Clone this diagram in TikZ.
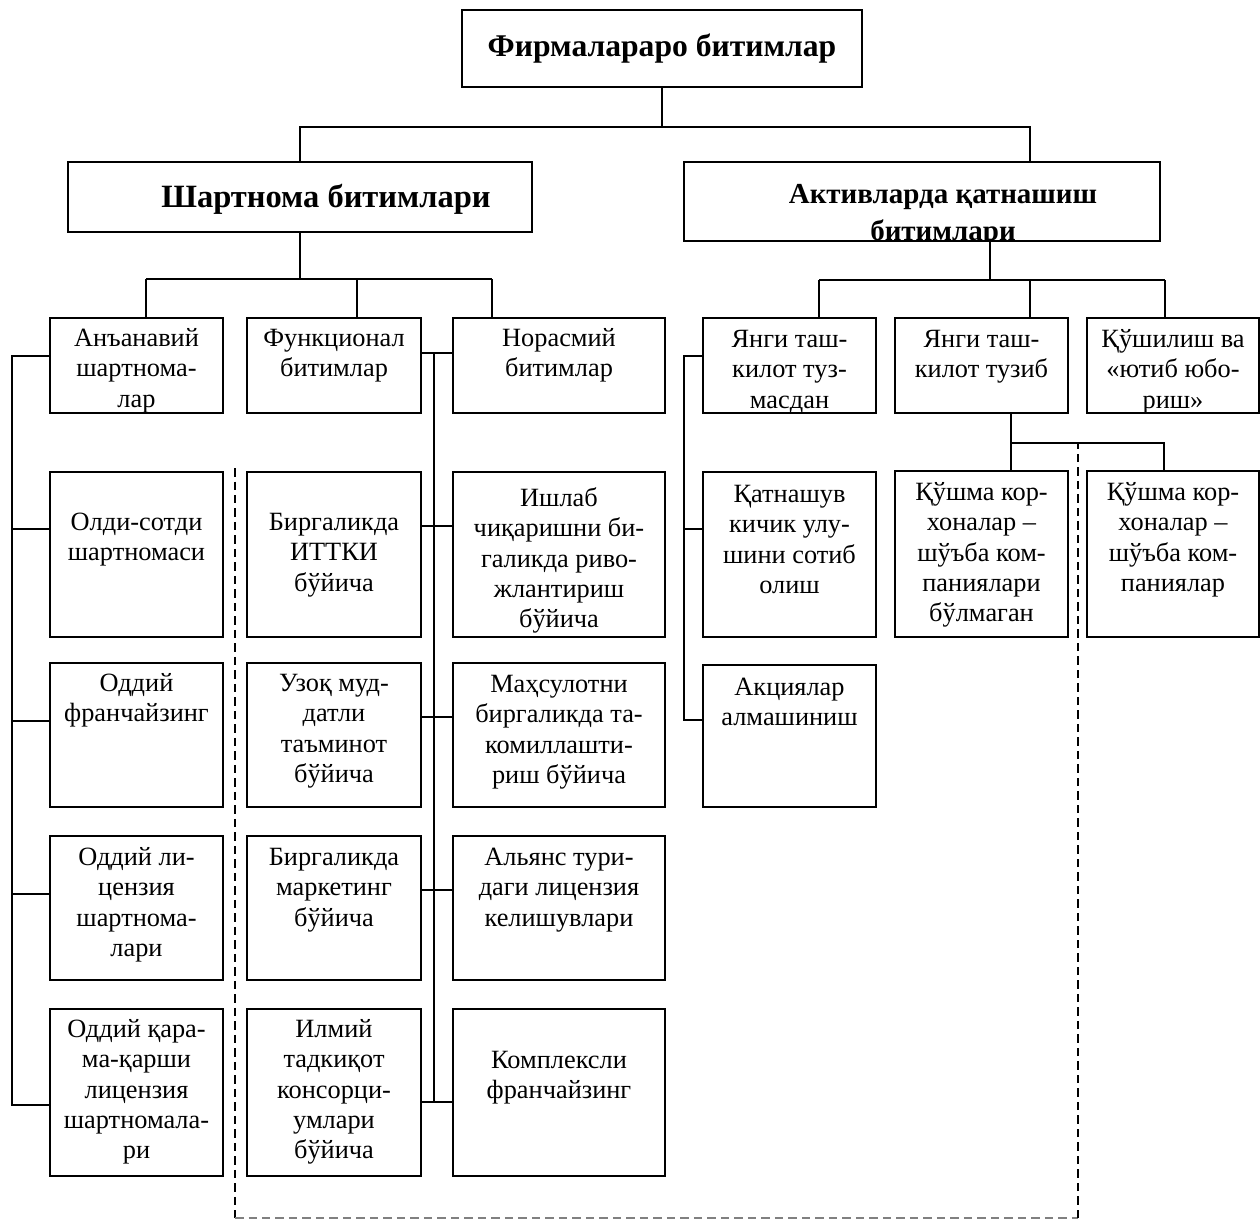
\documentclass[tikz,border=0pt]{standalone}
\usepackage{fontspec}
\setmainfont{Liberation Serif}
\newcommand{\toprule}[1]{\rule{0pt}{#1}}
\tikzset{
  box/.style={
    draw,
    line width=1.1pt,
    inner sep=0pt,
    outer sep=0pt
  },
  boxtext/.style={
    align=center,
    inner sep=0pt,
    font=\fontsize{15}{17.3}\selectfont
  },
  headtext/.style={
    align=center,
    inner sep=0pt,
    font=\fontsize{16.5}{21}\selectfont\bfseries
  },
  conn/.style={line width=1.1pt},
  dashline/.style={line width=0.8pt, dash pattern=on 0.17cm off 0.1cm},
  graydash/.style={dashline, gray}
}
\begin{document}
\begin{tikzpicture}[x=0.02cm, y=-0.02cm]
  \useasboundingbox (0,0) rectangle (1260,1220);
  % upper levels
  \node[box, minimum width=8cm, minimum height=1.54cm,
        font=\fontsize{18}{21}\selectfont\bfseries] (firm) at (662,48.5) {Фирмалараро битимлар};
  \node[box, minimum width=9.28cm, minimum height=1.4cm] (shart) at (300,197) {};
  \node[inner sep=0pt, anchor=base, font=\fontsize{18.5}{22}\selectfont\bfseries]
    (shart-t) at (326,207) {Шартнома битимлари};
  \node[box, minimum width=9.52cm, minimum height=1.58cm] (akt) at (922,201.5) {};
  \begin{scope}
    \clip (akt.north west) rectangle (akt.south east);
    \node[headtext, anchor=north] (akt-t) at (943,176.6) {\toprule{15pt}Активларда қатнашиш\\битимлари};
  \end{scope}
  % boxes: name/x1/y1/x2/y2/first baseline/text
  \foreach \nm/\xa/\ya/\xb/\yb/\bl/\tx in {
    anan/50/318/223/413/346/{Анъанавий\\шартнома-\\лар},
    func/247/318/421/413/346/{Функционал\\битимлар},
    noras/453/318/665/413/346/{Норасмий\\битимлар},
    yangia/703/318/876/413/347/{Янги таш-\\килот туз-\\масдан},
    yangib/895/318/1068/413/347/{Янги таш-\\килот тузиб},
    qush/1087/318/1259/413/347/{Қўшилиш ва\\«ютиб юбо-\\риш»},
    olsot/50/472/223/637/530/{Олди-сотди\\шартномаси},
    ittki/247/472/421/637/530/{Биргаликда\\ИТТКИ\\бўйича},
    ishlab/453/472/665/637/506/{Ишлаб\\чиқаришни би-\\галикда риво-\\жлантириш\\бўйича},
    qatn/703/472/876/637/502/{Қатнашув\\кичик улу-\\шини сотиб\\олиш},
    qushmaa/895/471/1068/637/500/{Қўшма кор-\\хоналар –\\шўъба ком-\\паниялари\\бўлмаган},
    qushmab/1087/471/1259/637/500/{Қўшма кор-\\хоналар –\\шўъба ком-\\паниялар},
    oddfr/50/663/223/807/691/{Оддий\\франчайзинг},
    uzoq/247/663/421/807/691/{Узоқ муд-\\датли\\таъминот\\бўйича},
    mahsul/453/663/665/807/692/{Маҳсулотни\\биргаликда та-\\комиллашти-\\риш бўйича},
    aksi/703/665/876/807/695/{Акциялар\\алмашиниш},
    oddlic/50/836/223/980/865/{Оддий ли-\\цензия\\шартнома-\\лари},
    marke/247/836/421/980/865/{Биргаликда\\маркетинг\\бўйича},
    alyans/453/836/665/980/865/{Альянс тури-\\даги лицензия\\келишувлари},
    oddqar/50/1009/223/1176/1037/{Оддий қара-\\ма-қарши\\лицензия\\шартномала-\\ри},
    ilmiy/247/1009/421/1176/1037/{Илмий\\тадкиқот\\консорци-\\умлари\\бўйича},
    kompl/453/1009/665/1176/1068/{Комплексли\\франчайзинг}}{
    \node[box, minimum width={(\xb-\xa)*0.02cm}, minimum height={(\yb-\ya)*0.02cm}]
      (\nm) at ({(\xa+\xb)/2},{(\ya+\yb)/2}) {};
    \node[boxtext, anchor=north] (\nm-t) at ({(\xa+\xb)/2},{\bl-21.1}) {\toprule{12pt}\tx};
  }
  % tree connectors
  \coordinate (t1) at (1030,127);
  \draw[conn] (firm.south) -- ++(0,40) coordinate (t0);
  \draw[conn] (t0) -| (shart.north);
  \draw[conn] (t0) -- (t1) -- (akt.north -| t1);
  \coordinate (s0) at (300,279);
  \coordinate (s1) at (146,279);
  \coordinate (s2) at (357,279);
  \coordinate (s3) at (492,279);
  \draw[conn] (shart.south) -- (s0);
  \draw[conn] (s1) -- (s3);
  \foreach \n/\c in {anan/s1, func/s2, noras/s3}
    \draw[conn] (\c) -- (\n.north -| \c);
  \coordinate (a0) at (990,280);
  \coordinate (a1) at (819,280);
  \coordinate (a2) at (1030,280);
  \coordinate (a3) at (1165,280);
  \draw[conn] (akt.south -| a0) -- (a0);
  \draw[conn] (a1) -- (a3);
  \foreach \n/\c in {yangia/a1, yangib/a2, qush/a3}
    \draw[conn] (\c) -- (\n.north -| \c);
  % left bus
  \coordinate (lb0) at (12,356);
  \coordinate (lb1) at (12,529);
  \coordinate (lb2) at (12,721);
  \coordinate (lb3) at (12,894);
  \coordinate (lb4) at (12,1105);
  \draw[conn] (anan.west |- lb0) -- (lb0) -- (lb4) -- (oddqar.west |- lb4);
  \foreach \n/\c in {olsot/lb1, oddfr/lb2, oddlic/lb3}
    \draw[conn] (\c) -- (\n.west |- \c);
  % middle bus
  \coordinate (mb0) at (434,353);
  \coordinate (mb1) at (434,526);
  \coordinate (mb2) at (434,717);
  \coordinate (mb3) at (434,890);
  \coordinate (mb4) at (434,1102);
  \draw[conn] (func.east |- mb0) -- (noras.west |- mb0);
  \draw[conn] (mb0) -- (mb4);
  \foreach \a/\b/\c in {ittki/ishlab/mb1, uzoq/mahsul/mb2, marke/alyans/mb3, ilmiy/kompl/mb4}
    \draw[conn] (\a.east |- \c) -- (\b.west |- \c);
  % right bus
  \coordinate (rb0) at (684,356);
  \coordinate (rb1) at (684,529);
  \coordinate (rb2) at (684,720);
  \draw[conn] (yangia.west |- rb0) -- (rb0) -- (rb2) -- (aksi.west |- rb2);
  \draw[conn] (rb1) -- (qatn.west |- rb1);
  % joint ventures
  \coordinate (q0) at (1011,443);
  \coordinate (q1) at (1164,443);
  \draw[conn] (yangib.south -| q0) -- (q0) -- (q1) -- (qushmab.north -| q1);
  \draw[conn] (q0) -- (qushmaa.north -| q0);
  % dashed frame
  \coordinate (d0) at (1078,443);
  \draw[dashline] (235,468) -- (235,1218);
  \draw[graydash] (235,1218) -- (1078,1218);
  \draw[dashline] (1078,1218) -- (d0);
\end{tikzpicture}
\end{document}
